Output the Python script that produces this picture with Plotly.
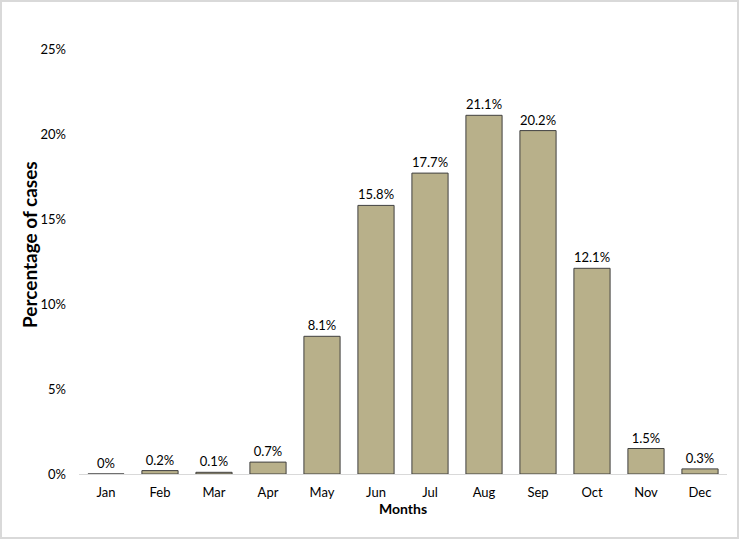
import plotly.graph_objects as go

months = ["Jan", "Feb", "Mar", "Apr", "May", "Jun", "Jul", "Aug", "Sep", "Oct", "Nov", "Dec"]
percent = [0, 0.2, 0.1, 0.7, 8.1, 15.8, 17.7, 21.1, 20.2, 12.1, 1.5, 0.3]
labels = [f"{v:g}%" for v in percent]

W, H = 740, 540
L, R, T, B = 79, 13, 49, 66
pw, ph = W - L - R, H - T - B

fig = go.Figure(go.Bar(
    x=months, y=percent, text=labels, textposition="outside",
    textfont=dict(color="#000000", size=13, family="Lato"),
    marker=dict(color="#B8B08A", line=dict(color="#404040", width=1)),
    cliponaxis=False,
))

fig.update_layout(
    width=W, height=H,
    margin=dict(l=L, r=R, t=T, b=B),
    paper_bgcolor="white", plot_bgcolor="white",
    bargap=0.33,
    showlegend=False,
    font=dict(family="Lato", size=13, color="#000000"),
    xaxis=dict(
        showline=True, linecolor="#D9D9D9", linewidth=1,
        showgrid=False, ticks="", tickfont=dict(size=13),
        ticklabelstandoff=6,
        title=dict(text="<b>Months</b>", font=dict(size=14), standoff=0),
    ),
    yaxis=dict(
        range=[0, 25], dtick=5, ticksuffix="%", showgrid=False,
        zeroline=False, showline=False, ticks="", tickfont=dict(size=13),
        ticklabelstandoff=12,
    ),
    annotations=[dict(
        text="<b>Percentage of cases</b>", textangle=-90,
        xref="paper", yref="paper",
        x=(29 - L) / pw, y=(H - B - 245) / ph,
        xanchor="center", yanchor="middle", showarrow=False,
        font=dict(size=19, color="#000000"),
    )],
    shapes=[dict(
        type="rect", xref="paper", yref="paper",
        x0=(1 - L) / pw, x1=(W - 2 - L) / pw,
        y0=(H - B - (H - 2)) / ph, y1=(H - B - 1) / ph,
        line=dict(color="#D9D9D9", width=2), layer="below",
    )],
)

fig.write_html("out.html", config={"displayModeBar": False},
               post_script="document.body.style.margin='0';")
